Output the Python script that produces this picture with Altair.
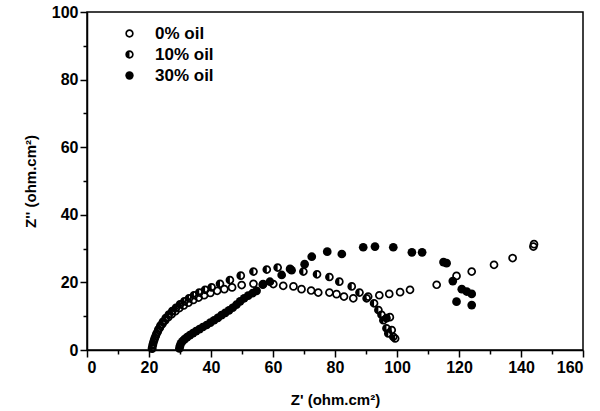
import altair as alt
import pandas as pd

series_names = ["0% oil", "10% oil", "30% oil"]

x_0 = [21.0, 21.3, 21.7, 22.2, 22.8, 23.5, 24.3, 25.2, 26.2, 27.3, 28.5, 29.8, 31.2, 32.7,
       34.3, 36.0, 37.8, 39.8, 42.0, 44.3, 46.8, 49.9, 53.7, 56.8, 60.1, 63.3, 66.6, 69.2,
       72.3, 74.6, 78.2, 80.5, 82.9, 85.9, 90.7, 94.3, 97.5, 101.0, 104.2, 112.8, 119.2,
       124.1, 131.3, 137.3, 144.0, 144.2]
y_0 = [0.6, 1.8, 3.0, 4.2, 5.4, 6.6, 7.7, 8.7, 9.7, 10.6, 11.5, 12.4, 13.2, 14.0,
       14.8, 15.5, 16.2, 16.9, 17.5, 18.0, 18.5, 19.2, 19.6, 19.5, 19.5, 19.0, 18.8, 18.0,
       17.6, 17.0, 17.0, 16.5, 15.8, 15.3, 15.8, 16.2, 16.6, 17.1, 17.8, 19.3, 21.9,
       23.2, 25.2, 27.2, 30.6, 31.3]

x_10 = [21.0, 21.2, 21.5, 21.9, 22.4, 23.0, 23.7, 24.5, 25.4, 26.4, 27.5, 28.7, 30.0, 31.4,
        32.9, 34.5, 36.2, 38.1, 40.2, 42.9, 46.1, 49.6, 53.7, 58.0, 61.5, 65.5, 69.8, 74.2,
        78.2, 81.4, 85.4, 87.9, 90.2, 92.6, 94.0, 95.0, 95.6, 96.6, 97.7, 96.6, 98.3, 97.2,
        98.8, 99.4]
y_10 = [0.4, 1.4, 2.5, 3.6, 4.8, 6.0, 7.2, 8.3, 9.4, 10.5, 11.5, 12.5, 13.5, 14.4,
        15.3, 16.2, 17.0, 17.8, 18.5, 19.6, 20.7, 22.0, 23.2, 23.8, 24.4, 24.0, 23.2, 22.4,
        21.6, 20.2, 18.8, 17.0, 15.3, 13.8, 11.8, 10.4, 8.8, 9.4, 9.7, 6.4, 5.9, 4.9,
        3.9, 3.4]

x_30 = [29.8, 30.0, 30.3, 30.8, 31.5, 32.3, 33.2, 34.2, 35.2, 36.3, 37.4, 38.6, 39.8, 41.0,
        42.2, 43.4, 44.6, 45.8, 47.0, 48.2, 49.4, 50.7, 52.0, 53.4, 54.7, 56.7, 59.0, 62.8,
        66.0, 70.2, 72.5, 77.5, 82.2, 89.1, 92.9, 98.8, 104.8, 108.1, 115.0, 116.0, 118.0,
        119.2, 120.9, 122.5, 124.1, 124.1]
y_30 = [0.5, 1.2, 2.0, 2.6, 3.2, 3.8, 4.4, 5.0, 5.6, 6.2, 6.8, 7.4, 8.1, 8.8,
        9.5, 10.3, 11.0, 11.7, 12.5, 13.4, 14.4, 15.3, 16.1, 16.8, 17.5, 19.3, 20.2, 22.2,
        23.6, 25.4, 27.6, 29.1, 28.4, 30.4, 30.6, 30.4, 28.9, 28.9, 26.0, 25.7, 20.4,
        14.3, 18.0, 17.3, 16.6, 13.3]

x_ticks = list(range(0, 161, 10))
y_ticks = list(range(0, 101, 10))

rows = []
for name, xs, ys in zip(series_names, [x_0, x_10, x_30], [y_0, y_10, y_30]):
    for xv, yv in zip(xs, ys):
        rows.append({"x": xv, "y": yv, "series": name})
df = pd.DataFrame(rows)

ring = ("M 1 0 A 1 1 0 1 1 -1 0 A 1 1 0 1 1 1 0 Z "
        "M 0.6 0 A 0.6 0.6 0 1 0 -0.6 0 A 0.6 0.6 0 1 0 0.6 0 Z")
half = ring + " M 0 -0.6 A 0.6 0.6 0 0 0 0 0.6 Z"

FONT = "Liberation Sans"
major = "datum.value % 20 === 0"

points = alt.Chart(df).mark_point(filled=True, size=76, color="black", opacity=1).encode(
    x=alt.X("x:Q",
            scale=alt.Scale(domain=[0, 160], nice=False, zero=False),
            axis=alt.Axis(values=x_ticks,
                          labelExpr=f"{major} ? datum.label : ''",
                          tickSize={"condition": {"test": major, "value": 7}, "value": 4},
                          title="Z' (ohm.cm²)", titlePadding=17)),
    y=alt.Y("y:Q",
            scale=alt.Scale(domain=[0, 100], nice=False, zero=False),
            axis=alt.Axis(values=y_ticks,
                          labelExpr=f"{major} ? datum.label : ''",
                          tickSize={"condition": {"test": major, "value": 7}, "value": 4},
                          title="Z'' (ohm.cm²)", titlePadding=13)),
    shape=alt.Shape("series:N",
                    scale=alt.Scale(domain=series_names, range=[ring, half, "circle"]),
                    legend=alt.Legend(title=None, orient="none", legendX=34, legendY=13,
                                      padding=0, symbolSize=70, symbolFillColor="black",
                                      symbolStrokeWidth=0, symbolOpacity=1,
                                      labelFont=FONT, labelFontSize=17,
                                      labelFontWeight="bold", labelColor="black",
                                      labelOffset=17, rowPadding=3)),
)

chart = points.properties(
    width=496, height=338,
    background="white",
    autosize=alt.AutoSizeParams(type="none"),
    padding={"left": 87, "top": 12, "right": 17, "bottom": 61},
).configure_view(
    stroke="black", strokeWidth=1.5
).configure_axis(
    grid=False, domainColor="black", domainWidth=1.5, tickColor="black", tickWidth=1.5,
    labelFont=FONT, labelFontSize=16, labelFontWeight="bold", labelColor="black",
    titleFont=FONT, titleFontSize=15, titleFontWeight="bold", titleColor="black",
    labelPadding=2,
)

chart.save("out.html", embed_options={"renderer": "svg", "actions": False})
